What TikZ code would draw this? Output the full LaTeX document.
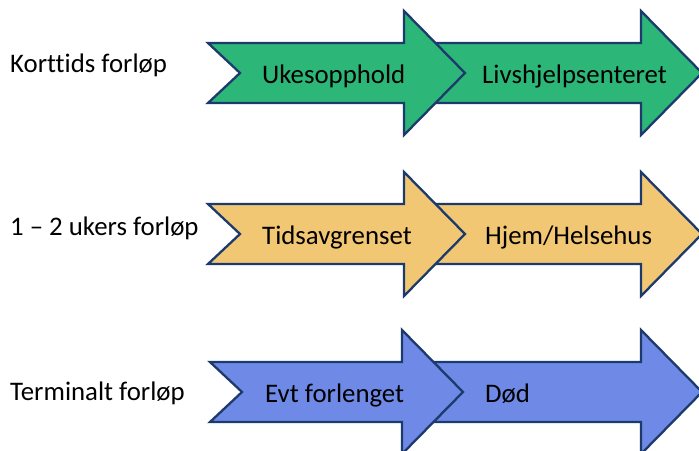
\documentclass[tikz,border=0pt]{standalone}
\usepackage{fontspec}
\setmainfont{Carlito}[Ligatures=NoCommon]
\usepackage{tikz}
\usetikzlibrary{positioning}
\usepackage{xcolor}

\definecolor{kortgreen}{RGB}{44,182,120}
\definecolor{ukeyellow}{RGB}{242,199,115}
\definecolor{termblue}{RGB}{111,138,230}
\definecolor{rimblue}{RGB}{28,58,108}

\tikzset{
  arrowline/.style={draw=rimblue, line width=2.3pt},
  rowlabel/.style={anchor=base west, inner sep=0pt, font=\fontsize{26.8}{30}\selectfont},
  arrowtext/.style={anchor=base west, inner sep=0pt, font=\fontsize{26.8}{30}\selectfont}
}

% #1 tail x, #2 head base x, #3 centre y, #4 fill
\newcommand{\steparrow}[4]{%
  \draw[arrowline, fill=#4] (#1,#3-30) -- (#2,#3-30) -- (#2,#3-62) -- (#2+61,#3)
    -- (#2,#3+62) -- (#2,#3+30) -- (#1,#3+30) -- (#1+32,#3) -- cycle;}

\begin{document}
\begin{tikzpicture}[x=1pt, y=-1pt]
\useasboundingbox (0,0) rectangle (699,450);
% short course
\steparrow{420}{641}{73}{kortgreen}
\steparrow{208}{404}{73}{kortgreen}
\node (kort) [rowlabel] at (10,72) {Korttids forløp};
\node (uke) [arrowtext] at (262,83) {Ukesopphold};
\node (livs) [arrowtext] at (482,83) {Livshjelpsenteret};
% one to two weeks
\steparrow{420}{641}{234}{ukeyellow}
\steparrow{208}{404}{234}{ukeyellow}
\node (ukers) [rowlabel] at (10,235) {1 – 2 ukers forløp};
\node (tids) [arrowtext] at (262,244) {Tidsavgrenset};
\node (hjem) [arrowtext] at (485,244) {Hjem/Helsehus};
% terminal
\steparrow{420}{641}{392}{termblue}
\steparrow{210}{402}{392}{termblue}
\node (term) [rowlabel] at (10,400) {Terminalt forløp};
\node (evt) [arrowtext] at (265,402) {Evt forlenget};
\node (dod) [arrowtext] at (485,402) {Død};
\end{tikzpicture}
\end{document}
